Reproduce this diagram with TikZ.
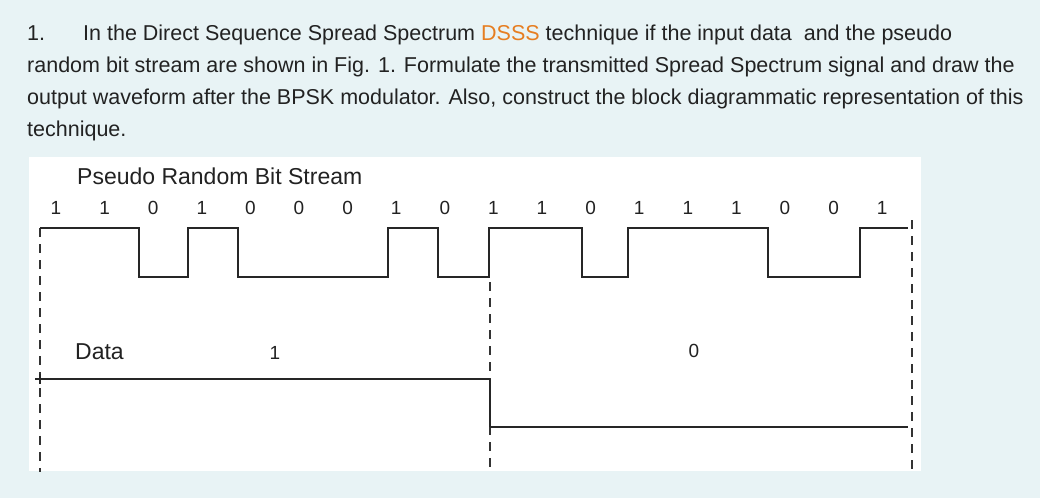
\documentclass[tikz,border=0pt]{standalone}
\usepackage{fontspec}
\setmainfont{Liberation Sans}
\usepackage{xcolor}
\usetikzlibrary{positioning}
\definecolor{pagebg}{HTML}{E8F3F5}
\definecolor{dsss}{HTML}{E67E22}
\definecolor{ink}{HTML}{222222}

\begin{document}
\begin{tikzpicture}[
  x=1pt, y=-1pt,
  question/.style={anchor=base west, inner sep=0pt, font=\fontsize{21.5}{21.5}\selectfont, text=ink},
  lbl/.style={inner sep=0pt, font=\fontsize{23}{23}\selectfont, text=ink},
  bit/.style={inner sep=0pt, font=\fontsize{19}{19}\selectfont, text=ink},
  wave/.style={line width=1.3pt, black!85},
  guide/.style={line width=1.2pt, black!80, dash pattern=on 9pt off 7pt}
]
\fill[pagebg] (0,0) rectangle (1040,498);
\useasboundingbox (0,0) rectangle (1040,498);
\fill[white] (29,157) rectangle (921,471);

% question text
\node[question] (num) at (27,40) {1.};
\node[question] (q1) at (83,40) {In the Direct Sequence Spread Spectrum \textcolor{dsss}{DSSS} technique if the input data\ \ and the pseudo};
\node[question] (q2) at (27,72) {random bit stream are shown in Fig. 1. Formulate the transmitted Spread Spectrum signal and draw the};
\node[question] (q3) at (27,104) {output waveform after the BPSK modulator. Also, construct the block diagrammatic representation of this};
\node[question] (q4) at (27,136) {technique.};

% labels
\node[lbl, anchor=west] (pntitle) at (77,176) {Pseudo Random Bit Stream};
\node[lbl, anchor=west] (datalbl) at (75,352) {Data};
\node[bit] (dbit1) at (275,353) {1};
\node[bit] (dbit0) at (694,351) {0};

% chip values
\foreach \v [count=\i from 0] in {1,1,0,1,0,0,0,1,0,1,1,0,1,1,1,0,0,1}
  \node[bit] (chip\i) at ({56+\i*48.6},208) {\v};

% dashed guides
\coordinate (gA) at (40,228);
\coordinate (gB) at (490,282);
\coordinate (gC) at (912,220);
\begin{scope}
\clip (29,157) rectangle (921,471);
\draw[guide] (gA) -- (40,480);
\draw[guide] (gB) -- (490,480);
\draw[guide] (gC) -- (912,480);
\node[lbl, anchor=west] (txlbl) at (75,482) {Transmitted Bit Stream};
\end{scope}

% pseudo random waveform
\draw[wave] (gA) -- (139,228) -- (139,277) -- (188,277) -- (188,228) -- (238,228)
  -- (238,277) -- (388,277) -- (388,228) -- (438,228) -- (438,277) -- (489,277)
  -- (489,228) -- (582,228) -- (582,277) -- (628,277) -- (628,228) -- (768,228)
  -- (768,277) -- (860,277) -- (860,228) -- (908,228);

% data waveform
\draw[wave] (40,379) -- (490,379);
\draw[line width=2pt, black!85] (490,379) -- (490,427);
\draw[wave] (490,427) -- (908,427);
\draw[wave] (35,379) -- (45,379) (40,374) -- (40,384);
\end{tikzpicture}
\end{document}
